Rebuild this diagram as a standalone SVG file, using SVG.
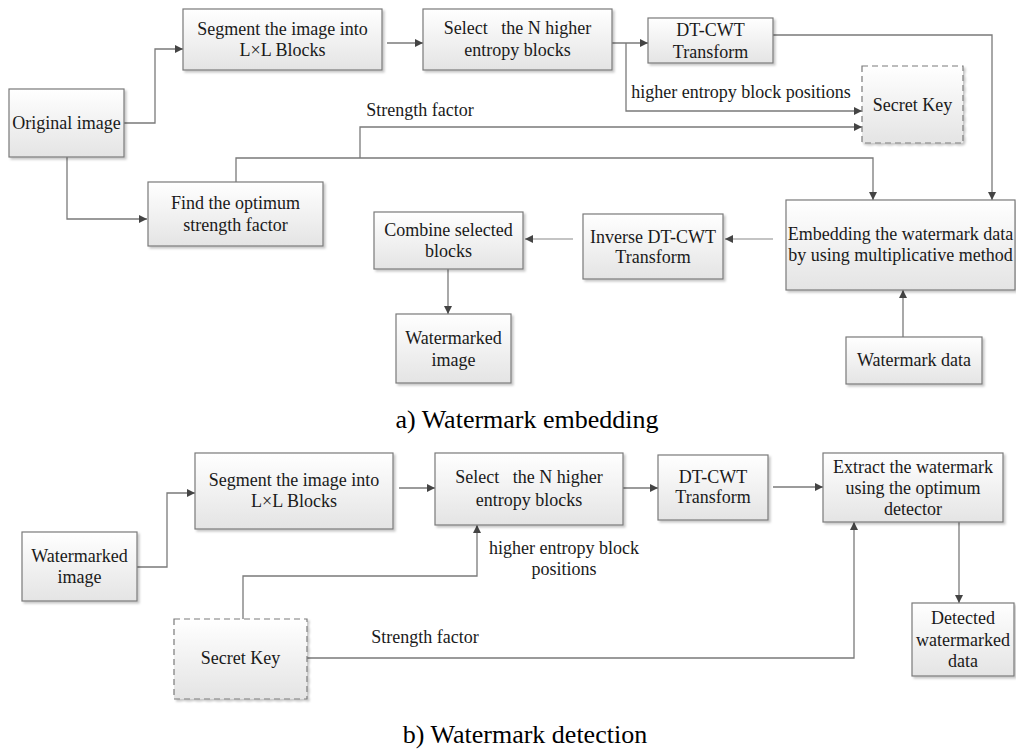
<svg xmlns="http://www.w3.org/2000/svg" width="1016" height="749" viewBox="0 0 1016 749" font-family="Liberation Serif, DejaVu Serif, serif">
<defs>
<linearGradient id="g" x1="0" y1="0" x2="0" y2="1">
<stop offset="0" stop-color="#ffffff"/>
<stop offset="1" stop-color="#e4e4e4"/>
</linearGradient>
<filter id="sh" x="-10%" y="-10%" width="130%" height="140%">
<feDropShadow dx="2" dy="2" stdDeviation="1" flood-color="#000" flood-opacity="0.22"/>
</filter>
<marker id="ah" viewBox="0 0 10 10" refX="10" refY="5" markerWidth="10" markerHeight="8" markerUnits="userSpaceOnUse" orient="auto">
<path d="M0,0 L10,5 L0,10 z" fill="#444"/>
</marker>
</defs>
<style>
.box{fill:url(#g);stroke:#7a7a7a;stroke-width:1.2;filter:url(#sh)}
.dash{fill:url(#g);stroke:#7a7a7a;stroke-width:1.2;stroke-dasharray:6 4;filter:url(#sh)}
text{font-family:'Liberation Serif','DejaVu Serif',serif;font-size:18px;fill:#1a1a1a;text-anchor:middle}
.cap{font-size:26px;fill:#000}
.c{fill:none;stroke:#7a7a7a;stroke-width:1.3}
.ca{fill:none;stroke:#7a7a7a;stroke-width:1.3;marker-end:url(#ah)}
.lt{stroke:#b0b0b0}
</style>
<rect width="1016" height="749" fill="#fff"/>

<g id="connectors">
<path class="ca" d="M124,123 H155 V49 H183"/>
<path class="ca" d="M67,157 V219 H147"/>
<path class="ca" d="M387,43 H423"/>
<path class="ca" d="M612,43 H648"/>
<path class="ca" d="M626,43 V111 H862"/>
<path class="ca" d="M773,35 H992 V200"/>
<path class="ca" d="M236,182 V158 H873 V200"/>
<path class="ca" d="M360,158 V127 H862"/>
<path class="ca lt" d="M773,239 H725"/>
<path class="ca lt" d="M573,239 H525"/>
<path class="ca" d="M448,269 V314"/>
<path class="ca" d="M903,337 V290"/>

<path class="ca" d="M137,567 H167 V493 H195"/>
<path class="ca" d="M399,488 H435"/>
<path class="ca" d="M623,488 H658"/>
<path class="ca" d="M773,487 H823"/>
<path class="ca" d="M959,522 V603"/>
<path class="ca" d="M243,619 V576 H477 V525"/>
<path class="ca" d="M307,658 H854 V522"/>

<text x="420" y="116">Strength factor</text>
<text x="741" y="98">higher entropy block positions</text>
<text x="564" y="554">higher entropy block</text>
<text x="564" y="575">positions</text>
<text x="425" y="643">Strength factor</text>
</g>

<g id="original-image"><rect class="box" x="9" y="89" width="115" height="68"/><text x="66.5" y="129">Original image</text></g>
<g id="segment-a"><rect class="box" x="183" y="9" width="199" height="61"/><text x="282.5" y="35">Segment the image into</text><text x="282.5" y="56">L×L Blocks</text></g>
<g id="select-a"><rect class="box" x="423" y="9" width="189" height="61"/><text x="517.5" y="34" xml:space="preserve">Select   the N higher</text><text x="517.5" y="56">entropy blocks</text></g>
<g id="dtcwt-a"><rect class="box" x="648" y="18" width="125" height="45"/><text x="710.5" y="36">DT-CWT</text><text x="710.5" y="58">Transform</text></g>
<g id="secret-key-a"><rect class="dash" x="862" y="66" width="101" height="77"/><text x="912.5" y="111">Secret Key</text></g>
<g id="find-strength"><rect class="box" x="148" y="182" width="175" height="64"/><text x="235.5" y="209">Find the optimum</text><text x="235.5" y="231">strength factor</text></g>
<g id="embedding"><rect class="box" x="786" y="200" width="229" height="90"/><text x="900.5" y="240">Embedding the watermark data</text><text x="900.5" y="261">by using multiplicative method</text></g>
<g id="inverse-dtcwt"><rect class="box" x="583" y="214" width="140" height="65"/><text x="653" y="243">Inverse DT-CWT</text><text x="653" y="263">Transform</text></g>
<g id="combine"><rect class="box" x="374" y="212" width="149" height="57"/><text x="448.5" y="236">Combine selected</text><text x="448.5" y="257">blocks</text></g>
<g id="watermarked-a"><rect class="box" x="396" y="314" width="115" height="69"/><text x="453.5" y="344">Watermarked</text><text x="453.5" y="366">image</text></g>
<g id="watermark-data"><rect class="box" x="846" y="337" width="136" height="47"/><text x="914" y="366">Watermark data</text></g>
<text class="cap" x="527" y="428">a) Watermark embedding</text>

<g id="watermarked-b"><rect class="box" x="22" y="532" width="115" height="69"/><text x="79.5" y="562">Watermarked</text><text x="79.5" y="583">image</text></g>
<g id="segment-b"><rect class="box" x="195" y="453" width="198" height="76"/><text x="294" y="486">Segment the image into</text><text x="294" y="507">L×L Blocks</text></g>
<g id="select-b"><rect class="box" x="435" y="453" width="188" height="72"/><text x="529" y="483" xml:space="preserve">Select   the N higher</text><text x="529" y="506">entropy blocks</text></g>
<g id="dtcwt-b"><rect class="box" x="658" y="455" width="110" height="65"/><text x="713" y="483">DT-CWT</text><text x="713" y="503">Transform</text></g>
<g id="extract"><rect class="box" x="823" y="453" width="180" height="69"/><text x="913" y="473">Extract the watermark</text><text x="913" y="494">using the optimum</text><text x="913" y="515">detector</text></g>
<g id="detected"><rect class="box" x="912" y="603" width="102" height="73"/><text x="963" y="624">Detected</text><text x="963" y="646">watermarked</text><text x="963" y="667">data</text></g>
<g id="secret-key-b"><rect class="dash" x="174" y="619" width="133" height="80"/><text x="240.5" y="664">Secret Key</text></g>
<text class="cap" x="525" y="743">b) Watermark detection</text>
</svg>
